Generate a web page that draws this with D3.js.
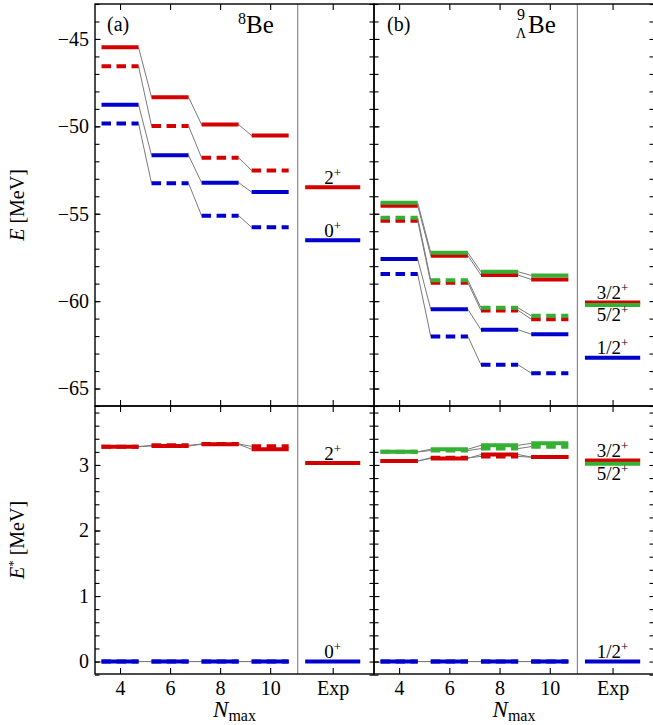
<!DOCTYPE html>
<html>
<head>
<meta charset="utf-8">
<script src="https://cdn.jsdelivr.net/npm/d3@7"></script>
<style>
  body { margin: 0; background: #fff; }
  svg { font-family: "Liberation Serif", "DejaVu Serif", serif; }
</style>
</head>
<body>
<div id="chart"></div>
<script>
// x positions: Nmax values plus the "Exp" column
const nmax = [4, 6, 8, 10];
const xTickVals = [4, 6, 8, 10, 12.5];
const xTickText = ['4', '6', '8', '10', 'Exp'];
const expX = 12.5;
const sepX = 11.1;

// y ticks
const eMajor = [-65, -60, -55, -50, -45];
const eMinor = d3.range(-66, -42, 1);
const xMajor = [0, 1, 2, 3];
const xMinor = d3.range(-0.2, 3.9, 0.2);

// (a) 8Be : total energy E [MeV]
const be8E2Solid = [-45.48, -48.34, -49.90, -50.53];
const be8E2Dashed = [-46.56, -49.98, -51.80, -52.52];
const be8E0Solid = [-48.76, -51.66, -53.22, -53.76];
const be8E0Dashed = [-49.83, -53.26, -55.11, -55.78];
const be8ExpE = [-53.49, -56.52];           // 2+, 0+
// (a) 8Be : excitation energy E* [MeV]
const be8X2Solid = [3.28, 3.29, 3.315, 3.24];
const be8X2Dashed = [3.28, 3.30, 3.32, 3.285];
const be8X0 = [0, 0, 0, 0];
const be8ExpX = [3.03, 0];                  // 2+, 0+

// (b) 9/Lambda Be : total energy E [MeV]
const lbeE32Solid = [-54.54, -57.40, -58.51, -58.76];
const lbeE32Dashed = [-55.40, -58.95, -60.53, -61.03];
const lbeE52Solid = [-54.37, -57.23, -58.32, -58.53];
const lbeE52Dashed = [-55.23, -58.80, -60.38, -60.84];
const lbeE12Solid = [-57.59, -60.47, -61.64, -61.89];
const lbeE12Dashed = [-58.45, -62.02, -63.64, -64.12];
const lbeExpE = [-60.08, -60.22, -63.24];   // 3/2+, 5/2+, 1/2+
// (b) excitation energy E* [MeV]
const lbeX32Solid = [3.06, 3.10, 3.16, 3.12];
const lbeX32Dashed = [3.06, 3.11, 3.13, 3.12];
const lbeX52Solid = [3.20, 3.24, 3.30, 3.33];
const lbeX52Dashed = [3.20, 3.22, 3.25, 3.28];
const lbeX12 = [0, 0, 0, 0];
const lbeExpX = [3.07, 3.02, 0];            // 3/2+, 5/2+, 1/2+

const RED = '#d40000', BLUE = '#0000cc', GREEN = '#35b035';
const W = 653, H = 725;
const panelTop = 4, panelSplit = 406, panelBottom = 674;
const halfBar = 0.74, halfExp = 1.1;

const svg = d3.select('#chart').append('svg')
    .attr('width', W)
    .attr('height', H);

const xA = d3.scaleLinear().domain([3, 14.15]).range([95, 374]);
const xB = d3.scaleLinear().domain([3, 14.15]).range([374, 654]);
const yE = d3.scaleLinear().domain([-66, -43]).range([panelSplit, panelTop]);
const yX = d3.scaleLinear().domain([-0.19, 3.9]).range([panelBottom, panelSplit]);

function frame(x, y, major, minor, yLabels, xLabels) {
    const g = svg.append('g');
    const [x0, x1] = x.range();
    const [y0, y1] = y.range();
    const noText = () => '';

    // left side
    g.append('g').attr('transform', 'translate(' + x0 + ',0)')
        .call(d3.axisLeft(y).tickValues(minor).tickSize(-4.5).tickFormat(noText));
    g.append('g').attr('transform', 'translate(' + x0 + ',0)')
        .call(d3.axisLeft(y).tickValues(major).tickSize(-5.5).tickPadding(6)
            .tickFormat(yLabels ? d3.format('d') : noText));
    // right side
    g.append('g').attr('transform', 'translate(' + x1 + ',0)')
        .call(d3.axisRight(y).tickValues(minor).tickSize(-4.5).tickFormat(noText));
    // top and bottom
    g.append('g').attr('transform', 'translate(0,' + y1 + ')')
        .call(d3.axisTop(x).tickValues(xTickVals).tickSize(-6).tickFormat(noText));
    g.append('g').attr('transform', 'translate(0,' + y0 + ')')
        .call(d3.axisBottom(x).tickValues(xTickVals).tickSize(-6).tickPadding(6.5)
            .tickFormat(xLabels ? (d, i) => xTickText[i] : noText));

    g.selectAll('.domain').remove();
    g.selectAll('.tick line').attr('stroke', '#000').attr('stroke-width', 1.1);
    g.selectAll('.tick text').style('font-size', '20px').attr('fill', '#000')
        .style('font-family', '"Liberation Serif", serif');

    // Exp separator
    g.append('line')
        .attr('x1', x(sepX)).attr('x2', x(sepX))
        .attr('y1', y1).attr('y2', y0)
        .attr('stroke', '#8a8a8a').attr('stroke-width', 1.2);

    g.append('rect')
        .attr('x', x0).attr('y', y1)
        .attr('width', x1 - x0).attr('height', y0 - y1)
        .attr('fill', 'none').attr('stroke', '#000').attr('stroke-width', 1.4);
}

function levels(x, y, series) {
    const g = svg.append('g');
    // grey connectors first, so the levels sit on top
    series.forEach(s => {
        for (let i = 0; i < nmax.length - 1; i++) {
            g.append('line')
                .attr('x1', x(nmax[i] + halfBar)).attr('y1', y(s.values[i]))
                .attr('x2', x(nmax[i + 1] - halfBar)).attr('y2', y(s.values[i + 1]))
                .attr('stroke', '#7a7a7a').attr('stroke-width', 1);
        }
    });
    series.forEach(s => {
        g.selectAll(null)
            .data(s.values)
            .enter().append('line')
            .attr('x1', (d, i) => x(nmax[i] - halfBar))
            .attr('x2', (d, i) => x(nmax[i] + halfBar))
            .attr('y1', d => y(d))
            .attr('y2', d => y(d))
            .attr('stroke', s.color)
            .attr('stroke-width', 4)
            .attr('stroke-dasharray', s.dashed ? '9.5,5.5' : null);
    });
}

function expLevels(x, y, values, colors, labels, below) {
    const g = svg.append('g');
    values.forEach((v, i) => {
        g.append('line')
            .attr('x1', x(expX - halfExp)).attr('x2', x(expX + halfExp))
            .attr('y1', y(v)).attr('y2', y(v))
            .attr('stroke', colors[i]).attr('stroke-width', 4);
    });
    values.forEach((v, i) => {
        const t = g.append('text')
            .attr('x', x(expX))
            .attr('y', below[i] ? y(v) + 16 : y(v) - 3.5)
            .attr('text-anchor', 'middle')
            .style('font-size', '19px');
        t.append('tspan').text(labels[i]);
        t.append('tspan').attr('dy', -7).style('font-size', '13px').text('+');
    });
}

// frames and axes
frame(xA, yE, eMajor, eMinor, true, false);
frame(xA, yX, xMajor, xMinor, true, true);
frame(xB, yE, eMajor, eMinor, false, false);
frame(xB, yX, xMajor, xMinor, false, true);

// (a) 8Be
levels(xA, yE, [
    { values: be8E2Solid, color: RED, dashed: false },
    { values: be8E2Dashed, color: RED, dashed: true },
    { values: be8E0Solid, color: BLUE, dashed: false },
    { values: be8E0Dashed, color: BLUE, dashed: true }
]);
expLevels(xA, yE, be8ExpE, [RED, BLUE], ['2', '0'], [false, false]);
levels(xA, yX, [
    { values: be8X2Solid, color: RED, dashed: false },
    { values: be8X2Dashed, color: RED, dashed: true },
    { values: be8X0, color: BLUE, dashed: false },
    { values: be8X0, color: BLUE, dashed: true }
]);
expLevels(xA, yX, be8ExpX, [RED, BLUE], ['2', '0'], [false, false]);

// (b) 9/Lambda Be
levels(xB, yE, [
    { values: lbeE32Solid, color: RED, dashed: false },
    { values: lbeE32Dashed, color: RED, dashed: true },
    { values: lbeE52Solid, color: GREEN, dashed: false },
    { values: lbeE52Dashed, color: GREEN, dashed: true },
    { values: lbeE12Solid, color: BLUE, dashed: false },
    { values: lbeE12Dashed, color: BLUE, dashed: true }
]);
expLevels(xB, yE, lbeExpE, [RED, GREEN, BLUE], ['3/2', '5/2', '1/2'], [false, true, false]);
levels(xB, yX, [
    { values: lbeX32Solid, color: RED, dashed: false },
    { values: lbeX32Dashed, color: RED, dashed: true },
    { values: lbeX52Solid, color: GREEN, dashed: false },
    { values: lbeX52Dashed, color: GREEN, dashed: true },
    { values: lbeX12, color: BLUE, dashed: false },
    { values: lbeX12, color: BLUE, dashed: true }
]);
expLevels(xB, yX, lbeExpX, [RED, GREEN, BLUE], ['3/2', '5/2', '1/2'], [false, true, false]);

// panel tags and nucleus names
svg.append('text').attr('x', 107).attr('y', 31).style('font-size', '20px').text('(a)');
svg.append('text').attr('x', 387).attr('y', 31).style('font-size', '20px').text('(b)');

svg.append('text').attr('x', 238).attr('y', 24).style('font-size', '16px').text('8');
svg.append('text').attr('x', 246).attr('y', 33).style('font-size', '25px').text('Be');

svg.append('text').attr('x', 517).attr('y', 20).style('font-size', '16px').text('9');
svg.append('text').attr('x', 516).attr('y', 38).style('font-size', '14px').text('Λ');
svg.append('text').attr('x', 528).attr('y', 33).style('font-size', '25px').text('Be');

// axis titles
function yTitle(cy, star) {
    const t = svg.append('text')
        .attr('transform', 'translate(24,' + cy + ') rotate(-90)')
        .attr('text-anchor', 'middle')
        .style('font-size', '20px');
    t.append('tspan').style('font-style', 'italic').text('E');
    if (star) {
        t.append('tspan').attr('dy', -7).style('font-size', '13px').text('*');
        t.append('tspan').attr('dy', 7).text(' [MeV]');
    } else {
        t.append('tspan').text(' [MeV]');
    }
}
yTitle((panelTop + panelSplit) / 2, false);
yTitle((panelSplit + panelBottom) / 2, true);

[xA, xB].forEach(x => {
    const [a, b] = x.range();
    const t = svg.append('text')
        .attr('x', (a + b) / 2)
        .attr('y', 717)
        .attr('text-anchor', 'middle');
    t.append('tspan').style('font-style', 'italic').style('font-size', '23px').text('N');
    t.append('tspan').attr('dy', 4).style('font-size', '16px').text('max');
});
</script>
</body>
</html>
